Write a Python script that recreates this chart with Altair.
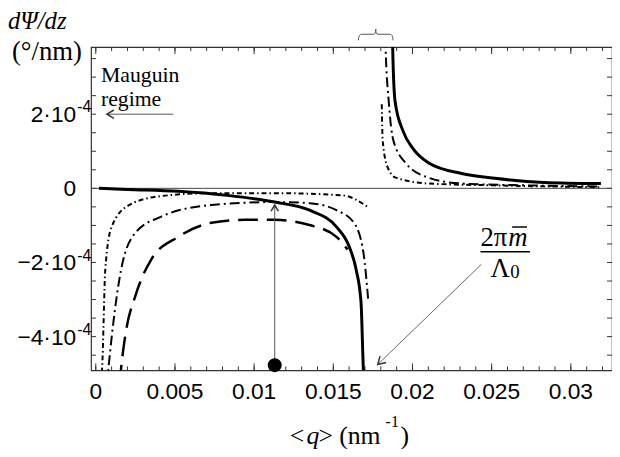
import altair as alt
import pandas as pd

W, H = 527, 327
X_DOM = [-0.0003, 0.0326]
Y_DOM = [-4.91e-4, 3.81e-4]

# ---- curves (q in nm^-1, dPsi/dz in deg/nm) ----
solid_neg_q = [0.0002, 0.002, 0.0052, 0.0083, 0.0113, 0.0135, 0.0152, 0.0160, 0.01644, 0.01675, 0.0169, 0.01695]
solid_neg_v = [0.0, -3e-6, -8e-6, -1.9e-5, -3.7e-5, -5.9e-5, -1.04e-4, -1.57e-4, -2.19e-4, -3.07e-4, -4.9e-4, -5.3e-4]
solid_pos_q = [0.01872, 0.01875, 0.0189, 0.0194, 0.0200, 0.0210, 0.0231, 0.0252, 0.0283, 0.0319]
solid_pos_v = [4.6e-4, 3.81e-4, 2.35e-4, 1.55e-4, 1.09e-4, 6.9e-5, 4.0e-5, 2.7e-5, 1.6e-5, 1.3e-5]

dashdot_neg_q = [0.0007, 0.0008, 0.0016, 0.0025, 0.0041, 0.0073, 0.0113, 0.0135, 0.0152, 0.0163, 0.0169, 0.0172]
dashdot_neg_v = [-5.3e-4, -4.85e-4, -2.19e-4, -1.2e-4, -7.7e-5, -4.5e-5, -3.7e-5, -4.0e-5, -5.9e-5, -9.3e-5, -1.73e-4, -2.99e-4]
dashdot_pos_q = [0.01825, 0.0183, 0.0185, 0.0188, 0.0196, 0.0210, 0.0231, 0.0273, 0.0319]
dashdot_pos_v = [4.6e-4, 3.81e-4, 2.35e-4, 1.28e-4, 6.7e-5, 2.9e-5, 1.3e-5, 8e-6, 5e-6]

dotdash_neg_q = [0.0003, 0.0004, 0.0006, 0.0010, 0.0021, 0.0041, 0.0073, 0.0114, 0.0156, 0.0172]
dotdash_neg_v = [-5.3e-4, -4.85e-4, -2.19e-4, -1.04e-4, -4.5e-5, -2.1e-5, -1.3e-5, -1.3e-5, -1.9e-5, -5.1e-5]
dotdash_pos_q = [0.01806, 0.01812, 0.01844, 0.01894, 0.0210, 0.0252, 0.0319]
dotdash_pos_v = [2.27e-4, 1.28e-4, 5.6e-5, 2.9e-5, 1.3e-5, 8e-6, 3e-6]

dashed_q = [0.0015, 0.0016, 0.0019, 0.0025, 0.0035, 0.0052, 0.0073, 0.0094, 0.0113, 0.0135, 0.0152, 0.0159]
dashed_v = [-5.3e-4, -4.85e-4, -3.87e-4, -2.9e-4, -1.92e-4, -1.31e-4, -9.3e-5, -8.5e-5, -8.5e-5, -9.9e-5, -1.31e-4, -1.65e-4]

# ---- axes ----
x_label_vals = [0, 0.005, 0.01, 0.015, 0.02, 0.025, 0.03]
x_label_text = ["0", "0.005", "0.01", "0.015", "0.02", "0.025", "0.03"]
y_label_vals = [2e-4, 0.0, -2e-4, -4e-4]
y_label_main = ["2·10", "0", "−2·10", "−4·10"]
y_label_sup = ["-4", "", "-4", "-4"]
x_minor_ticks = [round(0.001 * i, 3) for i in range(33)]
x_major_ticks = [0, 0.005, 0.01, 0.015, 0.02, 0.025, 0.03]
y_minor_ticks = [round(-4.5e-4 + 0.5e-4 * i, 6) for i in range(17)]

# ---- annotations (data coordinates) ----
mauguin_arrow_q = [0.0007, 0.0049]
mauguin_arrow_v = [2e-4, 2e-4]
marker_q = [0.0113]
marker_v = [-4.77e-4]
marker_arrow_top = [-4.5e-5]
pointer_q = [0.02435, 0.01781]
pointer_v = [-2.05e-4, -4.75e-4]

xs = alt.Scale(domain=X_DOM, nice=False, zero=False)
ys = alt.Scale(domain=Y_DOM, nice=False, zero=False)
SERIF = "Liberation Serif"
SANS = "Liberation Sans"


def curve(qv, vv, width, dash=None):
    df = pd.DataFrame({"q": qv, "v": vv, "i": list(range(len(qv)))})
    kw = dict(color="black", strokeWidth=width, clip=True, interpolate="monotone")
    if dash:
        kw["strokeDash"] = dash
    return alt.Chart(df).mark_line(**kw).encode(
        x=alt.X("q:Q", scale=xs, axis=None),
        y=alt.Y("v:Q", scale=ys, axis=None),
        order="i:Q",
    )


def text(t, x, y, size, family=SERIF, style="normal", align="left", baseline="alphabetic"):
    return alt.Chart(pd.DataFrame({"t": [t]})).mark_text(
        align=align, baseline=baseline, font=family, fontSize=size,
        fontStyle=style, color="black"
    ).encode(x=alt.value(x), y=alt.value(y), text="t:N")


def xticks(vals, length):
    df = pd.DataFrame({"q": vals})
    base = alt.Chart(df).mark_rule(color="#333", strokeWidth=1)
    return [
        base.encode(x=alt.X("q:Q", scale=xs, axis=None), y=alt.value(H), y2=alt.value(H - length)),
        base.encode(x=alt.X("q:Q", scale=xs, axis=None), y=alt.value(0), y2=alt.value(length)),
    ]


def yticks(vals, length):
    df = pd.DataFrame({"v": vals})
    base = alt.Chart(df).mark_rule(color="#333", strokeWidth=1)
    return [
        base.encode(y=alt.Y("v:Q", scale=ys, axis=None), x=alt.value(0), x2=alt.value(length)),
        base.encode(y=alt.Y("v:Q", scale=ys, axis=None), x=alt.value(W), x2=alt.value(W - length)),
    ]


layers = []
layers += xticks(x_minor_ticks, 4)
layers += xticks(x_major_ticks, 7)
layers += yticks(y_minor_ticks, 5)

# zero line
layers.append(
    alt.Chart(pd.DataFrame({"v": [0.0]})).mark_rule(color="#444", strokeWidth=1).encode(
        y=alt.Y("v:Q", scale=ys, axis=None)
    )
)

# curves
layers.append(curve(dotdash_neg_q, dotdash_neg_v, 2, [5, 3, 1.5, 3]))
layers.append(curve(dotdash_pos_q, dotdash_pos_v, 2, [5, 3, 1.5, 3]))
layers.append(curve(dashdot_neg_q, dashdot_neg_v, 2, [10, 4, 2, 4]))
layers.append(curve(dashdot_pos_q, dashdot_pos_v, 2, [10, 4, 2, 4]))
layers.append(curve(dashed_q, dashed_v, 2.5, [20, 9]))
layers.append(curve(solid_neg_q, solid_neg_v, 3))
layers.append(curve(solid_pos_q, solid_pos_v, 3))

CHEVRON = "M-1,-0.6L0,0L-1,0.6"

# Mauguin arrow
ma = pd.DataFrame({"q": [mauguin_arrow_q[0]], "q2": [mauguin_arrow_q[1]], "v": [mauguin_arrow_v[0]]})
layers.append(alt.Chart(ma).mark_rule(color="#555", strokeWidth=1).encode(
    x=alt.X("q:Q", scale=xs, axis=None), x2="q2:Q", y=alt.Y("v:Q", scale=ys, axis=None)))
layers.append(alt.Chart(ma).mark_point(shape=CHEVRON, size=200, angle=180, filled=False,
                                       color="#333", strokeWidth=1.5, opacity=1).encode(
    x=alt.X("q:Q", scale=xs, axis=None), y=alt.Y("v:Q", scale=ys, axis=None)))

# vertical marker arrow and dot
mk = pd.DataFrame({"q": marker_q, "v": marker_v, "v2": marker_arrow_top})
layers.append(alt.Chart(mk).mark_rule(color="#555", strokeWidth=1).encode(
    x=alt.X("q:Q", scale=xs, axis=None), y=alt.Y("v:Q", scale=ys, axis=None), y2="v2:Q"))
layers.append(alt.Chart(mk).mark_point(shape=CHEVRON, size=150, angle=270, filled=False,
                                       color="#333", strokeWidth=1.5, opacity=1).encode(
    x=alt.X("q:Q", scale=xs, axis=None), y=alt.Y("v2:Q", scale=ys, axis=None)))
layers.append(alt.Chart(mk).mark_point(shape="circle", size=200, filled=True, color="black", opacity=1).encode(
    x=alt.X("q:Q", scale=xs, axis=None), y=alt.Y("v:Q", scale=ys, axis=None)))

# diagonal pointer to 2*pi*m/Lambda0
pt = pd.DataFrame({"q": [pointer_q[0]], "q2": [pointer_q[1]], "v": [pointer_v[0]], "v2": [pointer_v[1]]})
layers.append(alt.Chart(pt).mark_rule(color="#666", strokeWidth=1).encode(
    x=alt.X("q:Q", scale=xs, axis=None), x2="q2:Q",
    y=alt.Y("v:Q", scale=ys, axis=None), y2="v2:Q"))
layers.append(alt.Chart(pt).mark_point(shape=CHEVRON, size=220, angle=136, filled=False,
                                       color="#333", strokeWidth=1.5, opacity=1).encode(
    x=alt.X("q2:Q", scale=xs, axis=None), y=alt.Y("v2:Q", scale=ys, axis=None)))

# brace above the top edge
BRACE = "M-1,0.35Q-1,0 -0.8,0L-0.12,0Q0,0 0,-0.3Q0,0 0.12,0L0.8,0Q1,0 1,0.35"
layers.append(alt.Chart(pd.DataFrame({"t": [0]})).mark_point(
    shape=BRACE, size=1225, filled=False, color="#555", strokeWidth=1, opacity=1
).encode(x=alt.value(288), y=alt.value(-13)))

# tick labels
xl = pd.DataFrame({"q": x_label_vals, "t": x_label_text})
layers.append(alt.Chart(xl).mark_text(font=SANS, fontSize=23, align="center", baseline="alphabetic",
                                      color="black").encode(
    x=alt.X("q:Q", scale=xs, axis=None), y=alt.value(356), text="t:N"))
yl = pd.DataFrame({"v": y_label_vals, "m": y_label_main, "s": y_label_sup})
layers.append(alt.Chart(yl).mark_text(font=SANS, fontSize=23, align="right", baseline="middle",
                                      color="black", dy=1).encode(
    y=alt.Y("v:Q", scale=ys, axis=None), x=alt.value(-15), text="m:N"))
layers.append(alt.Chart(yl).mark_text(font=SANS, fontSize=16, align="left", baseline="alphabetic",
                                      color="black", dy=-2).encode(
    y=alt.Y("v:Q", scale=ys, axis=None), x=alt.value(-14), text="s:N"))

# titles and annotations
layers.append(text("dΨ/dz", -84, -18, 25, style="italic"))
layers.append(text("(°/nm)", -80, 13, 27))
layers.append(text("Mauguin", 10, 35, 22))
layers.append(text("regime", 10, 60, 22))
layers.append(text("2π", 394, 201, 27))
layers.append(text("m", 422, 201, 27, style="italic"))
layers.append(alt.Chart(pd.DataFrame({"t": [0]})).mark_rule(color="black", strokeWidth=1.5).encode(
    x=alt.value(426), x2=alt.value(441), y=alt.value(182)))
layers.append(alt.Chart(pd.DataFrame({"t": [0]})).mark_rule(color="black", strokeWidth=1.5).encode(
    x=alt.value(394), x2=alt.value(444), y=alt.value(207)))
layers.append(text("Λ", 404, 233, 27))
layers.append(text("0", 424, 234, 19))
layers.append(text("<", 201, 401, 26))
layers.append(text("q", 218, 401, 26, style="italic"))
layers.append(text(">", 230, 401, 26))
layers.append(text("(nm", 251, 401, 26))
layers.append(text("-1", 298, 384, 16))
layers.append(text(")", 313, 401, 26))

chart = alt.layer(*layers).properties(
    width=W, height=H,
    padding={"left": 84, "top": 37, "right": 0, "bottom": 77},
    autosize=alt.AutoSizeParams(type="none"),
    background="white",
).configure_view(stroke="#333", strokeWidth=1.2)

chart.save("out.html", embed_options={"renderer": "svg", "actions": False})
